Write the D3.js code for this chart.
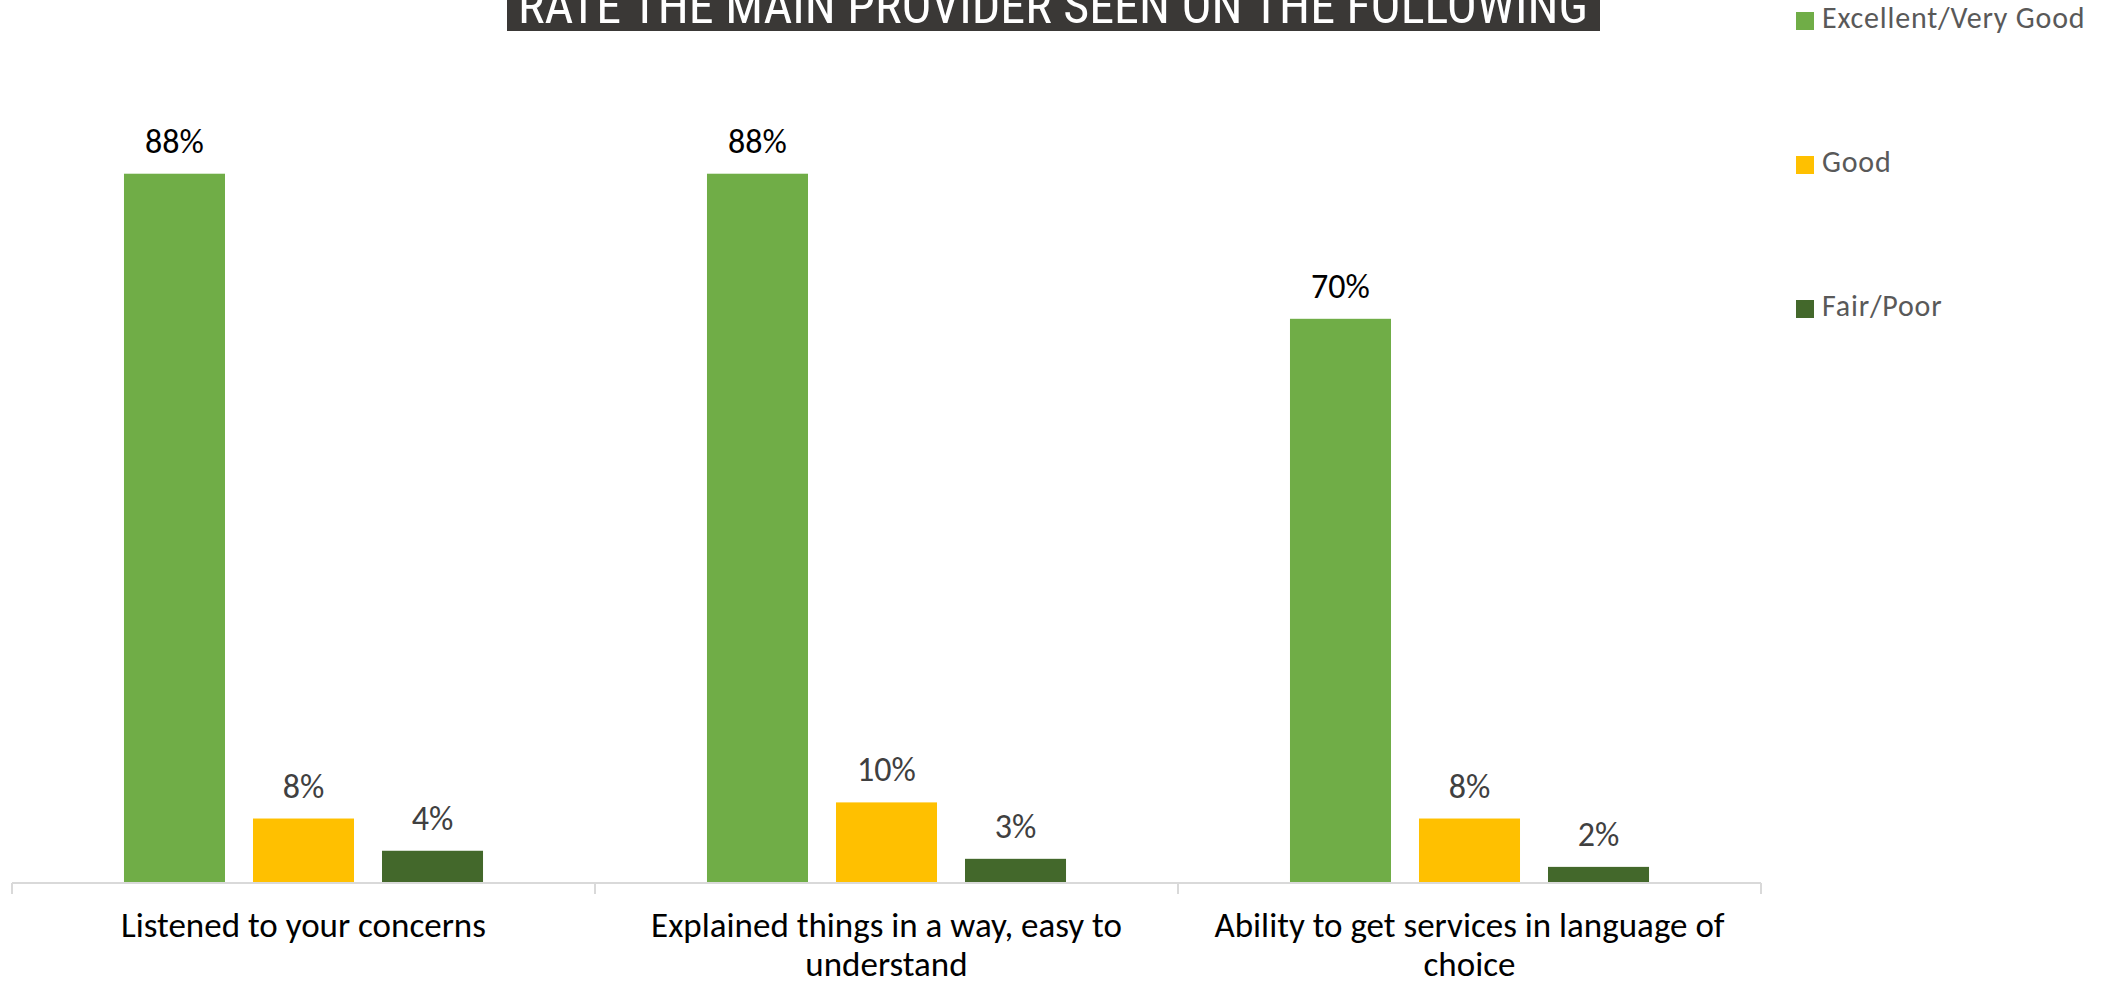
<!DOCTYPE html>
<html>
<head>
<meta charset="utf-8">
<script src="https://cdn.jsdelivr.net/npm/d3@7/dist/d3.min.js"></script>
<style>
  html, body { margin: 0; padding: 0; background: #ffffff; }
  svg { display: block; }
  .lbl { font-family: Carlito, Calibri, Lato, "Open Sans", sans-serif; }
</style>
</head>
<body>
<svg id="chart" width="2109" height="987"></svg>
<script>
// Survey results: rating of the main provider seen
const title = "RATE THE MAIN PROVIDER SEEN ON THE FOLLOWING";
const categories = [
  "Listened to your concerns",
  "Explained things in a way, easy to understand",
  "Ability to get services in language of choice"
];
const seriesNames = ["Excellent/Very Good", "Good", "Fair/Poor"];
const excellentVeryGood = [88, 88, 70];
const good = [8, 10, 8];
const fairPoor = [4, 3, 2];
const seriesColors = ["#70AD47", "#FFC000", "#43682B"];
const labelColors = ["#000000", "#404040", "#404040"];

const seriesValues = [excellentVeryGood, good, fairPoor];
const rows = categories.map((c, i) => ({
  category: c,
  values: seriesNames.map((s, k) => ({ series: s, k, value: seriesValues[k][i] }))
}));

const plot = { left: 12, right: 1761, top: 77, bottom: 883 };

const svg = d3.select("#chart");

// Title banner along the top edge
svg.append("rect")
  .attr("x", 507).attr("y", 0)
  .attr("width", 1093).attr("height", 31)
  .attr("fill", "#3A3836");
svg.append("text")
  .attr("x", 1053).attr("y", 23)
  .attr("text-anchor", "middle")
  .attr("fill", "#ffffff")
  .attr("font-family", "'Liberation Sans Narrow', 'Arial Narrow', 'Roboto Condensed', 'Liberation Sans', sans-serif")
  .attr("font-size", 50)
  .attr("textLength", 1070)
  .attr("lengthAdjust", "spacingAndGlyphs")
  .text(title);

// Scales
const x0 = d3.scaleBand()
  .domain(categories)
  .range([plot.left, plot.right])
  .paddingInner(0).paddingOuter(0);

const x1 = d3.scaleBand()
  .domain(seriesNames)
  .range([0, x0.bandwidth()])
  .paddingInner(0.217)
  .paddingOuter(0.868);

const y = d3.scaleLinear()
  .domain([0, 100])
  .range([plot.bottom, plot.top]);

// Bars
const groups = svg.append("g").selectAll("g")
  .data(rows)
  .join("g")
  .attr("transform", d => `translate(${x0(d.category)},0)`);

groups.selectAll("rect")
  .data(d => d.values)
  .join("rect")
  .attr("x", d => x1(d.series))
  .attr("width", x1.bandwidth())
  .attr("y", d => y(d.value))
  .attr("height", d => y(0) - y(d.value))
  .attr("fill", d => seriesColors[d.k]);

// Value labels
groups.selectAll("text")
  .data(d => d.values)
  .join("text")
  .attr("class", "lbl")
  .attr("x", d => x1(d.series) + x1.bandwidth() / 2)
  .attr("y", d => y(d.value) - 21)
  .attr("text-anchor", "middle")
  .attr("font-size", 34)
  .attr("fill", d => labelColors[d.k])
  .text(d => d.value + "%");

// Category axis line
svg.append("line")
  .attr("x1", plot.left).attr("x2", plot.right)
  .attr("y1", plot.bottom).attr("y2", plot.bottom)
  .attr("stroke", "#D9D9D9").attr("stroke-width", 2);

// Tick marks at category boundaries
const boundaries = categories.map(c => x0(c)).concat([x0(categories[categories.length - 1]) + x0.bandwidth()]);
svg.append("g").selectAll("line")
  .data(boundaries)
  .join("line")
  .attr("x1", d => d).attr("x2", d => d)
  .attr("y1", plot.bottom).attr("y2", plot.bottom + 11)
  .attr("stroke", "#D9D9D9").attr("stroke-width", 2);

// Category labels, wrapped to the band width
const catLabels = svg.append("g").selectAll("text")
  .data(categories)
  .join("text")
  .attr("class", "lbl")
  .attr("x", d => x0(d) + x0.bandwidth() / 2)
  .attr("y", 937)
  .attr("text-anchor", "middle")
  .attr("font-size", 35)
  .attr("fill", "#000000");

catLabels.each(function(d) {
  const el = d3.select(this);
  const cx = x0(d) + x0.bandwidth() / 2;
  const words = d.split(" ");
  const maxW = 560;
  let line = [];
  let tspan = el.append("tspan").attr("x", cx).attr("dy", 0);
  for (const w of words) {
    line.push(w);
    tspan.text(line.join(" "));
    if (tspan.node().getComputedTextLength() > maxW && line.length > 1) {
      line.pop();
      tspan.text(line.join(" "));
      line = [w];
      tspan = el.append("tspan").attr("x", cx).attr("dy", 39).text(w);
    }
  }
});

// Legend
const legend = svg.append("g").selectAll("g")
  .data(seriesNames)
  .join("g")
  .attr("transform", (d, i) => `translate(1796,${12 + i * 144})`);
legend.append("rect")
  .attr("width", 18).attr("height", 18)
  .attr("fill", (d, i) => seriesColors[i]);
legend.append("text")
  .attr("class", "lbl")
  .attr("x", 26).attr("y", 15.5)
  .attr("font-size", 30)
  .attr("letter-spacing", 0.8)
  .attr("fill", "#595959")
  .text(d => d);
</script>
</body>
</html>
